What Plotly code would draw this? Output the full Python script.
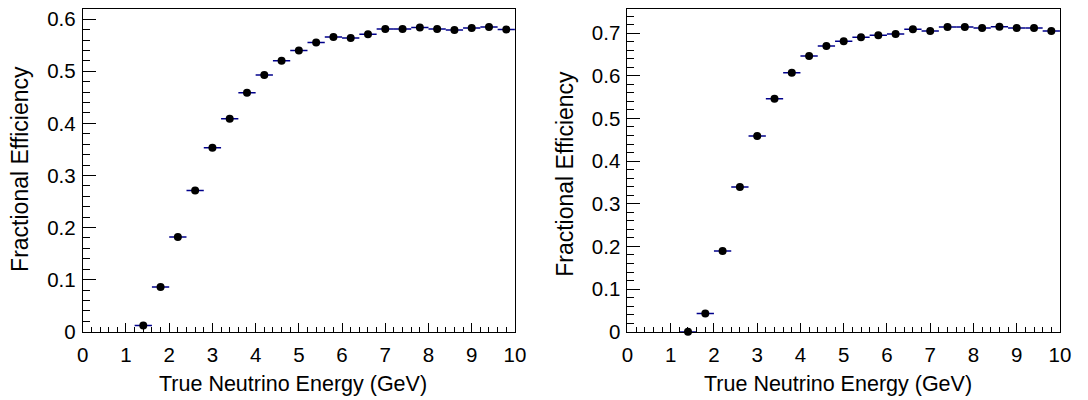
import plotly.graph_objects as go

# Bin centres (GeV) and half-widths
energy = [1.4, 1.8, 2.2, 2.6, 3.0, 3.4, 3.8, 4.2, 4.6, 5.0, 5.4,
          5.8, 6.2, 6.6, 7.0, 7.4, 7.8, 8.2, 8.6, 9.0, 9.4, 9.8]
bin_half_width = [0.2] * len(energy)

eff_left = [0.012, 0.086, 0.182, 0.271, 0.353, 0.409, 0.459, 0.493, 0.520, 0.540, 0.555,
            0.566, 0.564, 0.571, 0.581, 0.581, 0.584, 0.581, 0.579, 0.583, 0.585, 0.580]
eff_right = [0.000, 0.043, 0.189, 0.339, 0.459, 0.546, 0.607, 0.646, 0.670, 0.681, 0.690,
             0.695, 0.698, 0.709, 0.705, 0.714, 0.714, 0.712, 0.715, 0.712, 0.712, 0.705]

x_title = "True Neutrino Energy (GeV)"
y_title = "Fractional Efficiency"

W, H = 1088, 400
FONT = "Liberation Sans, Arial, Helvetica, sans-serif"

fig = go.Figure()

for vals, xa, ya in [(eff_left, "x", "y"), (eff_right, "x2", "y2")]:
    fig.add_trace(go.Scatter(
        x=energy, y=vals, xaxis=xa, yaxis=ya, mode="markers",
        marker=dict(color="black", size=8, symbol="circle"),
        error_x=dict(type="data", array=bin_half_width, color="#00008B",
                     thickness=1.5, width=0),
        showlegend=False, cliponaxis=False,
    ))

def px_x(p):
    return p / W

def px_y(p):
    return 1 - p / H

common_x = dict(range=[0, 10], dtick=1, tick0=0, ticks="inside", ticklen=9, tickwidth=1,
                tickcolor="black", showline=True, linecolor="black", linewidth=1,
                mirror=True, showgrid=False, zeroline=False, ticklabelstandoff=5,
                tickfont=dict(family=FONT, size=20.5, color="black"),
                minor=dict(dtick=0.2, tick0=0, ticks="inside", ticklen=5, tickcolor="black",
                           tickwidth=1, showgrid=False),
                fixedrange=True)
common_y = dict(ticks="inside", ticklen=13, tickwidth=1, tickcolor="black",
                showline=True, linecolor="black", linewidth=1, mirror=True,
                showgrid=False, zeroline=False, dtick=0.1, tick0=0, ticklabelstandoff=2,
                tickfont=dict(family=FONT, size=20.5, color="black"),
                minor=dict(dtick=0.02, tick0=0, ticks="inside", ticklen=7, tickcolor="black",
                           tickwidth=1, showgrid=False),
                fixedrange=True)

fig.update_layout(
    width=W, height=H,
    margin=dict(l=0, r=0, t=0, b=0),
    paper_bgcolor="white", plot_bgcolor="white",
    font=dict(family=FONT, color="black"),
    xaxis=dict(domain=[px_x(78), px_x(517)], anchor="y", **common_x),
    yaxis=dict(domain=[px_y(341), px_y(8)], anchor="x", range=[0, 0.62], **common_y),
    xaxis2=dict(domain=[px_x(631.3), px_x(1070.7)], anchor="y2", **common_x),
    yaxis2=dict(domain=[px_y(341), px_y(8)], anchor="x2", range=[0, 0.757], **common_y),
)

annotations = [
    dict(text=x_title, xref="x domain", yref="paper", x=0.486, y=px_y(395),
         xanchor="center", yanchor="middle", showarrow=False,
         font=dict(family=FONT, size=21.5, color="black")),
    dict(text=x_title, xref="x2 domain", yref="paper", x=0.4875, y=px_y(395),
         xanchor="center", yanchor="middle", showarrow=False,
         font=dict(family=FONT, size=21.5, color="black")),
    dict(text=y_title, xref="paper", yref="paper", x=px_x(14), y=px_y(173.3),
         xanchor="center", yanchor="middle", showarrow=False, textangle=-90,
         font=dict(family=FONT, size=23, color="black")),
    dict(text=y_title, xref="paper", yref="paper", x=px_x(568), y=px_y(178),
         xanchor="center", yanchor="middle", showarrow=False, textangle=-90,
         font=dict(family=FONT, size=23, color="black")),
]
fig.update_layout(annotations=annotations)

fig.write_html("out.html")
